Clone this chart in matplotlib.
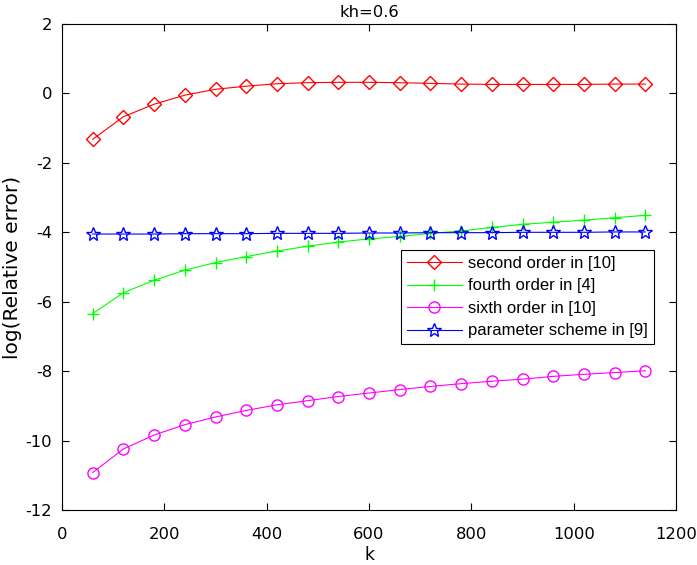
import matplotlib
matplotlib.use('Agg')
import matplotlib.pyplot as plt

plt.rcParams['font.family'] = ['DejaVu Sans']
plt.rcParams['axes.unicode_minus'] = False

k = [60, 120, 180, 240, 300, 360, 420, 480, 540, 600,
     660, 720, 780, 840, 900, 960, 1020, 1080, 1140]

second_order = [-1.32, -0.67, -0.31, -0.05, 0.12, 0.21, 0.28, 0.31, 0.32, 0.32,
                0.31, 0.29, 0.27, 0.26, 0.26, 0.26, 0.26, 0.27, 0.27]
fourth_order = [-6.34, -5.74, -5.38, -5.09, -4.87, -4.70, -4.54, -4.40, -4.28, -4.19,
                -4.12, -4.03, -3.96, -3.86, -3.77, -3.71, -3.65, -3.58, -3.51]
sixth_order = [-10.92, -10.24, -9.84, -9.54, -9.32, -9.13, -8.97, -8.85, -8.73, -8.63,
               -8.53, -8.44, -8.36, -8.29, -8.23, -8.15, -8.09, -8.04, -7.99]
param_scheme = [-4.05, -4.05, -4.05, -4.04, -4.04, -4.04, -4.03, -4.03, -4.03, -4.02,
                -4.02, -4.01, -4.01, -4.01, -4.00, -4.00, -4.00, -3.99, -3.99]

series = [
    (second_order, 'second order in [10]', '#ff0000', 'D', 7),
    (fourth_order, 'fourth order in [4]', '#00ff00', '+', 8.5),
    (sixth_order, 'sixth order in [10]', '#ff00ff', 'o', 8),
    (param_scheme, 'parameter scheme in [9]', '#0000ff', '*', 10),
]

fig = plt.figure(figsize=(6.97, 5.65), dpi=100)
ax = fig.add_axes([0.089, 0.0973, 0.881, 0.8602])

for values, label, color, marker, ms in series:
    ax.plot(k, values, color=color, lw=0.8, marker=marker, ms=ms,
            mfc='none', mec=color, mew=1.0, label=label)

ax.set_xlim(0, 1200)
ax.set_ylim(-12, 2)
ax.set_xticks(range(0, 1201, 200))
ax.set_yticks(range(-12, 3, 2))
ax.tick_params(direction='in', top=True, right=True, labelsize=11.8, length=5, width=0.8)
ax.tick_params(axis='x', pad=12)
ax.tick_params(axis='y', pad=7)
for spine in ax.spines.values():
    spine.set_linewidth(0.8)

ax.set_xlabel('k', fontsize=12.3, labelpad=3)
ax.set_ylabel('log(Relative error)', fontsize=14.5, labelpad=3)
ax.set_title('kh=0.6', fontsize=11.8, pad=5)

leg = ax.legend(loc='upper left', bbox_to_anchor=(0.552, 0.535),
                prop={'family': 'Liberation Sans', 'size': 12},
                handlelength=3.3, fancybox=False, framealpha=1, edgecolor='black',
                borderpad=0.35, labelspacing=0.45, handletextpad=0.4, borderaxespad=0)
leg.get_frame().set_linewidth(0.8)

fig.savefig('out.png', dpi=100)
